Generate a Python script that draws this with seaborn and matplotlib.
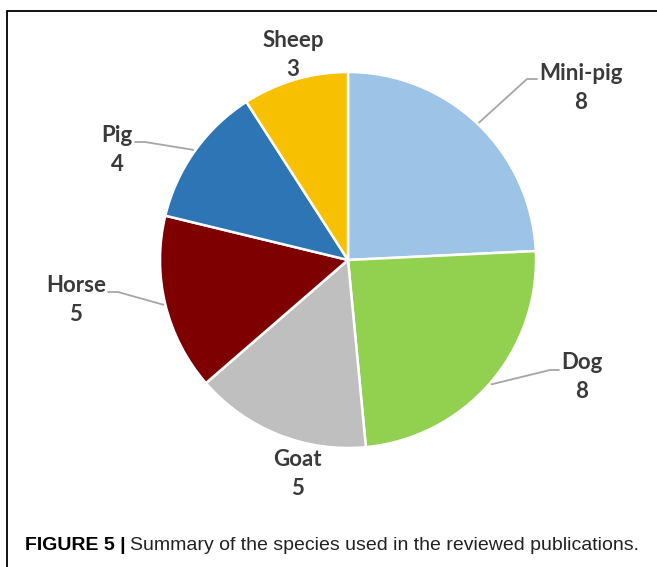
import numpy as np
import matplotlib
matplotlib.use("Agg")
import matplotlib.pyplot as plt
import seaborn as sns
from matplotlib.lines import Line2D

# Data
species = ["Mini-pig", "Dog", "Goat", "Horse", "Pig", "Sheep"]
counts = [8, 8, 5, 5, 4, 3]
slice_colors = ["#9DC3E6", "#92D050", "#BFBFBF", "#7F0000", "#2E75B6", "#F7C000"]
caption_bold = "FIGURE 5 |"
caption_text = "Summary of the species used in the reviewed publications."

sns.set_theme(style="white")
plt.rcParams["font.family"] = ["Lato", "DejaVu Sans"]
palette = sns.color_palette(slice_colors)

W, H = 657, 567
DPI = 100
fig = plt.figure(figsize=(W / DPI, H / DPI), dpi=DPI)
fig.patch.set_facecolor("white")

# pie geometry in pixels
CX, CY, R = 348, 260, 188


def px(x, y):
    """pixel (top-left origin) -> data units where the pie radius is 1"""
    return (x - CX) / R, (CY - y) / R


ax = fig.add_axes([0, 0, 1, 1])
ax.set_axis_off()

wedges, _ = ax.pie(
    counts,
    colors=palette,
    startangle=90,
    counterclock=False,
    radius=1.0,
    center=(0, 0),
    wedgeprops=dict(edgecolor="white", linewidth=1.8),
)
ax.set_xlim(-CX / R, (W - CX) / R)
ax.set_ylim((CY - H) / R, CY / R)
ax.set_aspect("auto")

# label layout: (name baseline centre x, name baseline y, elbow points or None)
label_layout = {
    "Mini-pig": (581, 80, [(527, 79), (537, 79)]),
    "Dog": (582, 369, [(550, 370), (559, 370)]),
    "Goat": (297, 466, None),
    "Horse": (76, 292, [(118, 292), (108, 292)]),
    "Pig": (117, 142, [(145, 142), (135, 142)]),
    "Sheep": (293, 47, None),
}
line_gap = 29
text_color = "#3A3A3A"
leader_color = "#A6A6A6"

for w, name, val in zip(wedges, species, counts):
    lx, ly, elbow = label_layout[name]
    ax.text(*px(lx, ly), name, ha="center", va="baseline", fontsize=16,
            fontweight="bold", color=text_color)
    ax.text(*px(lx, ly + line_gap), str(val), ha="center", va="baseline",
            fontsize=16, fontweight="bold", color=text_color)
    if elbow:
        mid = np.deg2rad((w.theta1 + w.theta2) / 2)
        pts = [(np.cos(mid) * 1.01, np.sin(mid) * 1.01)] + [px(*p) for p in elbow]
        xs, ys = zip(*pts)
        ax.add_line(Line2D(xs, ys, color=leader_color, linewidth=1.3))

# frame around the figure panel
ax.add_line(Line2D(*zip(px(7, H), px(7, 11), px(W, 11)), color="black",
                   linewidth=1.3, solid_joinstyle="miter"))

# caption
cap_font = ["Liberation Sans", "DejaVu Sans"]
t1 = fig.text(25 / W, 1 - 550 / H, caption_bold, fontsize=14, fontweight="bold",
              family=cap_font, color="black", va="baseline", ha="left")
fig.canvas.draw()
bb = t1.get_window_extent()
fig.text((bb.x1 + 4) / W, 1 - 550 / H, caption_text, fontsize=14,
         family=cap_font, color="#222222", va="baseline", ha="left")

fig.savefig("out.png", dpi=DPI, facecolor="white")
